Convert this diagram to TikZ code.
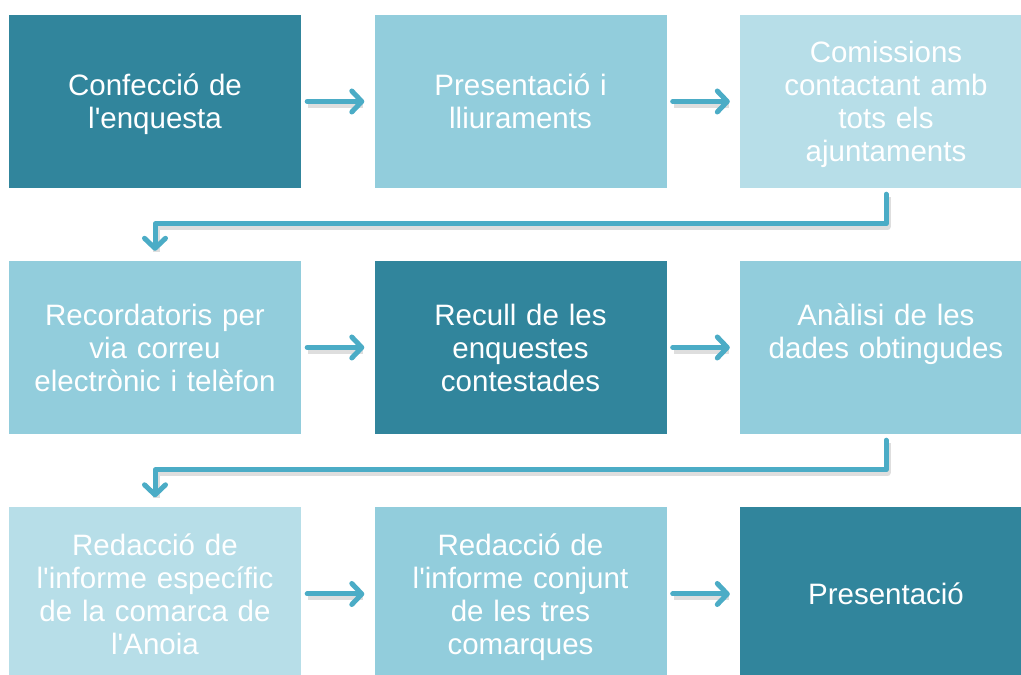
\documentclass[tikz,border=0pt]{standalone}
\usepackage{fontspec}
\setmainfont{Liberation Sans}[Ligatures=TeXOff]
\usetikzlibrary{arrows.meta}
\definecolor{cdark}{HTML}{31859C}
\definecolor{cmed}{HTML}{92CDDC}
\definecolor{clight}{HTML}{B7DEE8}
\definecolor{carrow}{HTML}{4BACC6}
\tikzset{
  box/.style={rectangle, inner sep=0pt, minimum width=292pt, minimum height=173pt,
    text width=280pt, align=center, text=white,
    font=\fontsize{29.5}{33}\selectfont},
  arr/.style={draw=carrow, line width=5pt, line cap=round, line join=round,
    -{Straight Barb[length=10pt,width=21pt,round]}},
  shad/.style={draw=black, opacity=0.13, line width=7pt, line join=round},
}
\begin{document}
\begin{tikzpicture}[x=1pt,y=1pt]
\useasboundingbox (0,0) rectangle (1021,675);
\clip (0,0) rectangle (1021,675);
% boxes
\node[box, fill=cdark]  (b1) at (155,573.5) {Confecció de\\\smash{l'enquesta}};
\node[box, fill=cmed]   (b2) at (520.5,573.5) {Presentació i\\lliuraments};
\node[box, fill=clight] (b3) at (886,573.5) {Comissions\\contactant amb\\tots els\\\smash{ajuntaments}};
\node[box, fill=cmed]   (b4) at (155,327.5) {Recordatoris per\\via correu\\electrònic i telèfon};
\node[box, fill=cdark]  (b5) at (520.5,327.5) {Recull de les\\enquestes\\contestades};
\node[box, fill=cmed]   (b6) at (886,327.5) {Anàlisi de les\\dades obtingudes\\\mbox{}};
\node[box, fill=clight] (b7) at (155,81) {Redacció de\\l'informe específic\\de la comarca de\\l'Anoia};
\node[box, fill=cmed]   (b8) at (520.5,81) {Redacció de\\l'informe conjunt\\de les tres\\\smash{comarques}};
\node[box, fill=cdark]  (b9) at (886,81) {Presentació};
% turn points
\coordinate (m1) at (155,451);
\coordinate (m2) at (155,205);
% shadows
\begin{scope}[transform canvas={shift={(1pt,-3pt)}}]
\draw[shad, shorten <=6pt, shorten >=12pt] (b1) -- (b2);
\draw[shad, shorten <=6pt, shorten >=12pt] (b2) -- (b3);
\draw[shad, shorten <=6pt, shorten >=12pt] (b4) -- (b5);
\draw[shad, shorten <=6pt, shorten >=12pt] (b5) -- (b6);
\draw[shad, shorten <=6pt, shorten >=12pt] (b7) -- (b8);
\draw[shad, shorten <=6pt, shorten >=12pt] (b8) -- (b9);
\draw[shad, shorten <=6pt, shorten >=12pt] (b3.south) |- (m1) -- (b4.north);
\draw[shad, shorten <=6pt, shorten >=12pt] (b6.south) |- (m2) -- (b7.north);
\end{scope}
% arrows
\draw[arr, shorten <=6pt, shorten >=10pt] (b1) -- (b2);
\draw[arr, shorten <=6pt, shorten >=10pt] (b2) -- (b3);
\draw[arr, shorten <=6pt, shorten >=10pt] (b4) -- (b5);
\draw[arr, shorten <=6pt, shorten >=10pt] (b5) -- (b6);
\draw[arr, shorten <=6pt, shorten >=10pt] (b7) -- (b8);
\draw[arr, shorten <=6pt, shorten >=10pt] (b8) -- (b9);
\draw[arr, shorten <=6pt, shorten >=10pt] (b3.south) |- (m1) -- (b4.north);
\draw[arr, shorten <=6pt, shorten >=10pt] (b6.south) |- (m2) -- (b7.north);
\end{tikzpicture}
\end{document}
